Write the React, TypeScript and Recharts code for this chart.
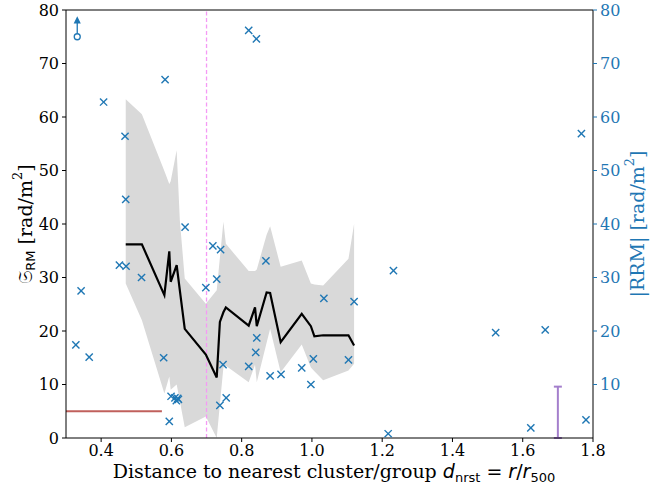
import React from 'react';
import { ComposedChart, Area, Line, Scatter, XAxis, YAxis, ReferenceLine, ErrorBar } from 'recharts';

const BLUE = '#1f77b4';
const SERIF = "'DejaVu Serif', serif";
const SANS = "'DejaVu Sans', sans-serif";

// axis ticks
const xTicks = [0.4, 0.6, 0.8, 1.0, 1.2, 1.4, 1.6, 1.8];
const leftTicks = [0, 10, 20, 30, 40, 50, 60, 70, 80];
const rightTicks = [10, 20, 30, 40, 50, 60, 70, 80];

// running median + spread
const binX = [0.47, 0.516, 0.58, 0.594, 0.598, 0.615, 0.624, 0.638, 0.698, 0.729, 0.738, 0.748, 0.755, 0.82, 0.838, 0.843, 0.871, 0.881, 0.911, 0.971, 0.997, 1.007, 1.032, 1.104, 1.12];
const medianRM = [36.2, 36.2, 26.7, 34.9, 29.2, 32.3, 27.6, 20.4, 15.6, 11.3, 21.7, 23.5, 24.4, 21.0, 24.4, 20.9, 27.2, 27.1, 17.9, 23.2, 20.9, 19.0, 19.2, 19.2, 17.3];
const bandLow = [28.9, 22.0, 8.3, 11.5, 9.0, 10.0, 6.9, 2.0, 4.0, 0.0, 6.3, 13.2, 13.5, 10.4, 13.7, 10.4, 17.8, 20.4, 12.3, 17.5, 13.2, 12.5, 10.8, 12.6, 13.9];
const bandHigh = [63.3, 60.5, 49.9, 47.5, 48.0, 53.8, 40.7, 29.8, 25.1, 27.6, 33.7, 40.4, 36.3, 31.2, 31.2, 31.5, 38.0, 39.6, 32.0, 33.2, 28.9, 28.7, 28.5, 33.5, 40.0];

// individual sources |RRM|
const srcX = [0.328, 0.343, 0.366, 0.407, 0.452, 0.471, 0.468, 0.47, 0.515, 0.578, 0.582, 0.594, 0.599, 0.61, 0.614, 0.618, 0.62, 0.639, 0.698, 0.718, 0.74, 0.729, 0.738, 0.747, 0.756, 0.82, 0.842, 0.82, 0.84, 0.843, 0.869, 0.881, 0.912, 0.971, 0.997, 1.004, 1.034, 1.104, 1.12, 1.217, 1.232, 1.523, 1.623, 1.664, 1.767, 1.78];
const srcRRM = [17.4, 27.5, 15.1, 62.8, 32.3, 32.1, 56.4, 44.6, 30.0, 15.0, 67.0, 3.1, 7.8, 7.5, 7.0, 7.4, 7.2, 39.4, 28.1, 35.9, 35.2, 29.7, 6.1, 13.7, 7.5, 76.2, 74.6, 13.4, 16.0, 18.7, 33.1, 11.6, 11.9, 13.1, 10.0, 14.8, 26.1, 14.6, 25.5, 0.8, 31.3, 19.7, 1.9, 20.2, 56.9, 3.4];

// lower limit marker (arrow up)
const limitX = [0.332];
const limitY = [75.0];

// typical uncertainty
const errX = [1.7];
const errHalf = [4.8];

const floorLevel = 5;
const floorEnd = 0.573;
const dividerX = 0.7;

const bandRows = binX.map((x, i) => ({ x, med: medianRM[i], band: [bandLow[i], bandHigh[i]] }));
const srcRows = srcX.map((x, i) => ({ x, y: srcRRM[i] }));
const limitRows = limitX.map((x, i) => ({ x, y: limitY[i] }));
const errRows = errX.map((x, i) => ({ x, y: errHalf[i], err: errHalf[i] }));

// eslint-disable-next-line @typescript-eslint/no-explicit-any
const Cross = (props: any) => {
    const { cx, cy } = props;
    const r = 3.6;
    return (
        <g stroke={BLUE} strokeWidth={1.4}>
            <line x1={cx - r} y1={cy - r} x2={cx + r} y2={cy + r} />
            <line x1={cx - r} y1={cy + r} x2={cx + r} y2={cy - r} />
        </g>
    );
};

// eslint-disable-next-line @typescript-eslint/no-explicit-any
const UpperArrow = (props: any) => {
    const { cx, cy } = props;
    return (
        <g stroke={BLUE} strokeWidth={1.3}>
            <line x1={cx} y1={cy - 3} x2={cx} y2={cy - 16} />
            <path d={`M${cx - 2.5},${cy - 14} L${cx},${cy - 19} L${cx + 2.5},${cy - 14} Z`} fill={BLUE} />
            <circle cx={cx} cy={cy} r={3} fill="#fff" />
        </g>
    );
};

const Empty = () => <g />;

const App: React.FC = () => {
    return (
        <div style={{ position: 'absolute', left: 0, top: 0, width: 668, height: 488, background: '#fff' }}>
            <ComposedChart
                width={668}
                height={488}
                data={bandRows}
                margin={{ top: 10, right: 15, bottom: 20, left: 16 }}
            >
                <XAxis
                    dataKey="x"
                    type="number"
                    domain={[0.3, 1.8]}
                    ticks={xTicks}
                    allowDataOverflow
                    tickFormatter={(v: number) => v.toFixed(1)}
                    height={30}
                    tickSize={4}
                    tickMargin={3}
                    axisLine={{ stroke: '#000' }}
                    tickLine={{ stroke: '#000' }}
                    tick={{ fontFamily: SERIF, fontSize: 16, fill: '#000' }}
                />
                <YAxis
                    yAxisId="left"
                    type="number"
                    domain={[0, 80]}
                    ticks={leftTicks}
                    allowDataOverflow
                    width={50}
                    tickSize={4}
                    tickMargin={3}
                    axisLine={{ stroke: '#000' }}
                    tickLine={{ stroke: '#000' }}
                    tick={{ fontFamily: SERIF, fontSize: 16, fill: '#000' }}
                />
                <YAxis
                    yAxisId="right"
                    orientation="right"
                    type="number"
                    domain={[0, 80]}
                    ticks={rightTicks}
                    allowDataOverflow
                    width={60}
                    tickSize={4}
                    tickMargin={3}
                    axisLine={{ stroke: '#000' }}
                    tickLine={{ stroke: BLUE }}
                    tick={{ fontFamily: SERIF, fontSize: 16, fill: BLUE }}
                />
                <Area
                    yAxisId="left"
                    dataKey="band"
                    type="linear"
                    stroke="none"
                    fill="#d9d9d9"
                    fillOpacity={1}
                    isAnimationActive={false}
                />
                <ReferenceLine yAxisId="left" x={dividerX} stroke="#f59af5" strokeWidth={1.3} strokeDasharray="4 2.5" />
                <ReferenceLine
                    yAxisId="left"
                    segment={[{ x: 0.3, y: floorLevel }, { x: floorEnd, y: floorLevel }]}
                    stroke="#c0605c"
                    strokeWidth={2}
                />
                <Line
                    yAxisId="left"
                    dataKey="med"
                    type="linear"
                    stroke="#000"
                    strokeWidth={2.2}
                    dot={false}
                    isAnimationActive={false}
                />
                <Scatter yAxisId="left" data={srcRows} dataKey="y" shape={Cross} isAnimationActive={false} />
                <Scatter yAxisId="left" data={limitRows} dataKey="y" shape={UpperArrow} isAnimationActive={false} />
                <Scatter yAxisId="left" data={errRows} dataKey="y" shape={Empty} isAnimationActive={false}>
                    <ErrorBar dataKey="err" direction="y" width={4} stroke="#a47fcc" strokeWidth={2} isAnimationActive={false} />
                </Scatter>
                <ReferenceLine yAxisId="left" y={80} stroke="#000" strokeWidth={1} />
            </ComposedChart>
            <svg width={668} height={488} style={{ position: 'absolute', left: 0, top: 0, pointerEvents: 'none' }}>
                <text
                    transform="translate(25,224) rotate(-90)"
                    textAnchor="middle"
                    dominantBaseline="central"
                    fontFamily={SERIF}
                    fontSize={19}
                    fill="#000"
                >
                    𝔖<tspan fontFamily={SANS} fontSize={13} dy={5}>RM</tspan>
                    <tspan dy={-5}> [rad/m</tspan>
                    <tspan fontSize={13} dy={-8}>2</tspan>
                    <tspan dy={8}>]</tspan>
                </text>
                <text
                    transform="translate(637,224) rotate(-90)"
                    textAnchor="middle"
                    dominantBaseline="central"
                    fontFamily={SERIF}
                    fontSize={19}
                    fill={BLUE}
                >
                    |RRM| [rad/m<tspan fontSize={13} dy={-8}>2</tspan>
                    <tspan dy={8}>]</tspan>
                </text>
                <text x={334} y={478} textAnchor="middle" fontFamily={SERIF} fontSize={19} fill="#000">
                    Distance to nearest cluster/group{' '}
                    <tspan fontFamily={SANS} fontStyle="italic">d</tspan>
                    <tspan fontFamily={SANS} fontSize={13} dy={4}>nrst</tspan>
                    <tspan fontFamily={SANS} dy={-4}> = </tspan>
                    <tspan fontFamily={SANS} fontStyle="italic">r</tspan>
                    <tspan fontFamily={SANS}>/</tspan>
                    <tspan fontFamily={SANS} fontStyle="italic">r</tspan>
                    <tspan fontFamily={SANS} fontSize={13} dy={4}>500</tspan>
                </text>
            </svg>
        </div>
    );
};

export default App;
